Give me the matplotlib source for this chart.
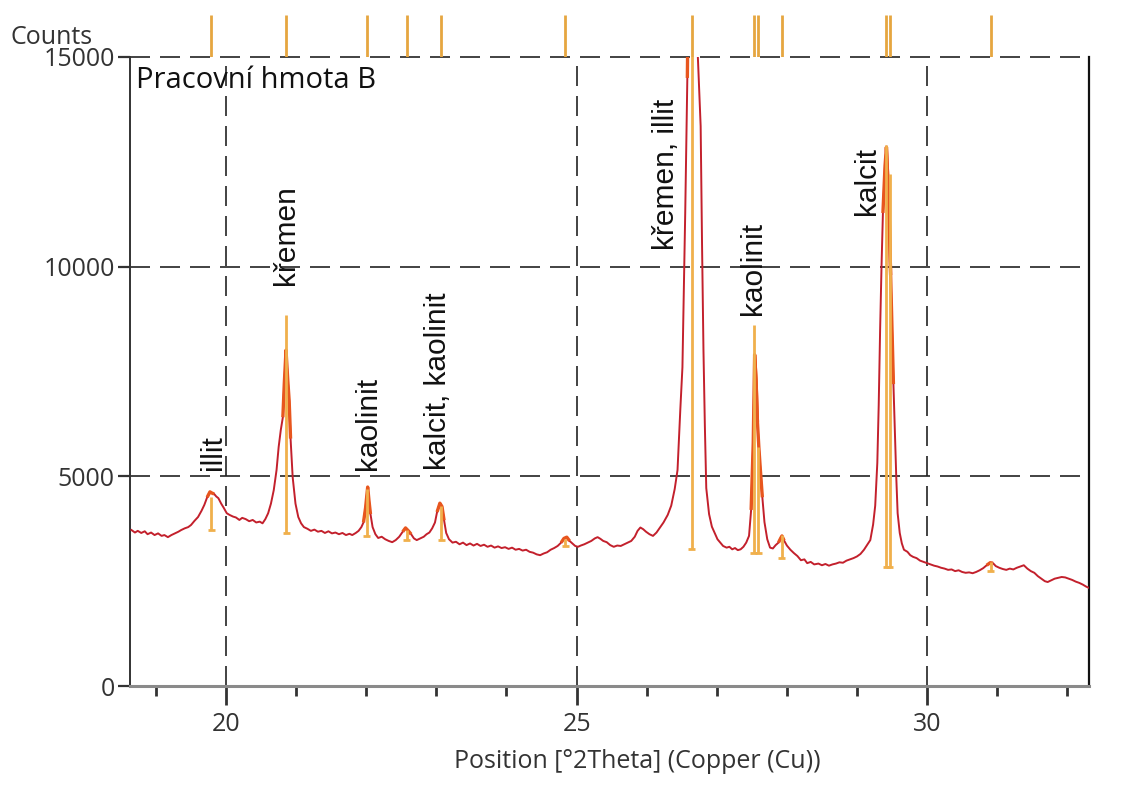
import numpy as np
import matplotlib
matplotlib.use('Agg')
import matplotlib.pyplot as plt

two_theta = [
    18.65, 18.70, 18.74, 18.79, 18.84, 18.88, 18.93, 18.98, 19.03, 19.08,
    19.12, 19.17, 19.22, 19.27, 19.32, 19.36, 19.41, 19.46, 19.50, 19.55,
    19.60, 19.65, 19.69, 19.73, 19.77, 19.80, 19.83, 19.86, 19.89, 19.93,
    19.97, 20.01, 20.05, 20.10, 20.14, 20.19, 20.23, 20.28, 20.33, 20.38,
    20.43, 20.48, 20.52, 20.56, 20.60, 20.64, 20.68, 20.72, 20.75, 20.78,
    20.81, 20.83, 20.855, 20.88, 20.90, 20.92, 20.95, 20.99, 21.03, 21.07,
    21.11, 21.16, 21.21, 21.26, 21.31, 21.36, 21.41, 21.46, 21.51, 21.56,
    21.61, 21.66, 21.71, 21.76, 21.80, 21.85, 21.89, 21.93, 21.96, 21.99,
    22.02, 22.04, 22.06, 22.09, 22.13, 22.17, 22.22, 22.27, 22.32, 22.37,
    22.42, 22.47, 22.52, 22.56, 22.60, 22.64, 22.68, 22.72, 22.77, 22.82,
    22.86, 22.90, 22.94, 22.98, 23.01, 23.05, 23.08, 23.11, 23.14, 23.18,
    23.23, 23.28, 23.33, 23.38, 23.43, 23.48, 23.53, 23.58, 23.63, 23.68,
    23.73, 23.78, 23.83, 23.88, 23.93, 23.98, 24.03, 24.08, 24.13, 24.18,
    24.23, 24.28, 24.33, 24.38, 24.43, 24.48, 24.53, 24.58, 24.63, 24.68,
    24.73, 24.78, 24.82, 24.86, 24.90, 24.94, 24.98, 25.02, 25.06, 25.11,
    25.16, 25.21, 25.26, 25.30, 25.34, 25.38, 25.43, 25.48, 25.53, 25.58,
    25.63, 25.68, 25.73, 25.78, 25.83, 25.87, 25.91, 25.95, 25.99, 26.04,
    26.09, 26.14, 26.19, 26.24, 26.30, 26.35, 26.40, 26.44, 26.48, 26.51,
    26.53, 26.55, 26.58, 26.61, 26.64, 26.67, 26.70, 26.73, 26.77, 26.79,
    26.81, 26.83, 26.85, 26.89, 26.93, 26.97, 27.01, 27.05, 27.09, 27.14,
    27.18, 27.22, 27.26, 27.30, 27.34, 27.38, 27.42, 27.46, 27.49, 27.52,
    27.54, 27.56, 27.58, 27.60, 27.62, 27.65, 27.68, 27.72, 27.76, 27.80,
    27.84, 27.88, 27.91, 27.93, 27.96, 28.00, 28.05, 28.10, 28.15, 28.20,
    28.25, 28.29, 28.34, 28.39, 28.45, 28.50, 28.55, 28.60, 28.65, 28.70,
    28.75, 28.80, 28.85, 28.90, 28.95, 29.00, 29.05, 29.10, 29.15, 29.19,
    29.23, 29.26, 29.29, 29.31, 29.33, 29.35, 29.37, 29.40, 29.42, 29.44,
    29.46, 29.48, 29.50, 29.52, 29.54, 29.56, 29.58, 29.61, 29.64, 29.67,
    29.72, 29.76, 29.80, 29.85, 29.90, 29.95, 30.00, 30.05, 30.10, 30.15,
    30.20, 30.25, 30.30, 30.35, 30.40, 30.45, 30.50, 30.55, 30.60, 30.65,
    30.70, 30.75, 30.80, 30.85, 30.90, 30.94, 30.98, 31.03, 31.08, 31.13,
    31.18, 31.23, 31.28, 31.33, 31.38, 31.43, 31.48, 31.53, 31.58, 31.63,
    31.68, 31.72, 31.77, 31.82, 31.87, 31.92, 31.97, 32.02, 32.07, 32.12,
    32.17, 32.22, 32.27, 32.31,
]
counts = [
    3720, 3660, 3700, 3650, 3690, 3620, 3660, 3600, 3640, 3580,
    3600, 3550, 3600, 3640, 3680, 3720, 3760, 3790, 3840, 3940,
    4030, 4180, 4320, 4500, 4630, 4600, 4580, 4520, 4480, 4350,
    4240, 4120, 4080, 4040, 4020, 3960, 4010, 3980, 3930, 3960,
    3900, 3920, 3880, 3980, 4120, 4350, 4670, 5150, 5700, 6100,
    6410, 7200, 8010, 7300, 6800, 5900, 4980, 4350, 4030, 3880,
    3790, 3750, 3700, 3730, 3680, 3700, 3650, 3690, 3640, 3660,
    3620, 3650, 3600, 3630, 3600, 3650, 3700, 3790, 3900, 4250,
    4745, 4400, 4100, 3790, 3620, 3530, 3560, 3500, 3460, 3430,
    3480, 3560, 3680, 3770, 3700, 3620, 3520, 3480, 3520, 3560,
    3620, 3660, 3760, 3900, 4150, 4360, 4280, 3950, 3650, 3500,
    3420, 3440, 3380, 3420, 3360, 3400, 3350, 3390, 3340, 3370,
    3320, 3350, 3300, 3330, 3290, 3310, 3270, 3300, 3250, 3270,
    3230, 3250, 3200, 3180, 3140, 3120, 3160, 3190, 3250, 3290,
    3340, 3420, 3520, 3550, 3460, 3400, 3340, 3320, 3350, 3380,
    3420, 3460, 3520, 3550, 3510, 3460, 3430, 3360, 3320, 3350,
    3340, 3380, 3420, 3460, 3560, 3700, 3780, 3740, 3680, 3620,
    3580, 3660, 3780, 3900, 4080, 4300, 4700, 5150, 6600, 7600,
    9500, 11300, 14500, 19000, 23000, 20000, 17000, 15000, 13350, 10500,
    8010, 6200, 4720, 4100, 3800, 3650, 3500, 3420, 3340, 3300,
    3320, 3260, 3290, 3240, 3260, 3320, 3420, 3580, 4200, 5800,
    7900, 7300, 6300, 5700, 5200, 4500, 3910, 3500, 3300, 3280,
    3360, 3420, 3520, 3580, 3470, 3350, 3250, 3170, 3100, 3000,
    3020, 2930, 2960, 2900, 2920, 2880, 2910, 2870, 2900, 2920,
    2950, 2940, 2990, 3020, 3050, 3090, 3150, 3250, 3380, 3480,
    3850, 4300, 5320, 6700, 8490, 10000, 11280, 12400, 12850, 12060,
    11200, 9800, 8490, 7200, 6100, 5000, 4120, 3650, 3400, 3250,
    3200, 3120, 3080, 3050, 2990, 2960, 2930, 2900, 2870, 2850,
    2820, 2800, 2770, 2780, 2740, 2760, 2720, 2700, 2710, 2690,
    2720, 2760, 2810, 2880, 2940, 2930, 2860, 2820, 2790, 2770,
    2800, 2780, 2820, 2850, 2880, 2800, 2740, 2700, 2620, 2560,
    2500, 2480, 2520, 2560, 2580, 2600, 2590, 2560, 2530, 2490,
    2460, 2420, 2370, 2340,
]

# ---- reference (phase) sticks ----
ref_pos = [19.79, 20.855, 22.01, 22.58, 23.07, 24.84, 26.64, 27.53, 27.59, 27.93, 29.42, 29.47, 30.91]
ref_top = [4510, 8850, 4700, 3720, 4300, 3500, 30000, 8600, 5700, 3600, 12900, 12200, 2950]
ref_base = [3720, 3650, 3580, 3480, 3480, 3330, 3270, 3170, 3170, 3050, 2840, 2840, 2750]

# ---- peak annotations ----
label_text = ["illit", "křemen", "kaolinit", "kalcit, kaolinit", "křemen, illit", "kaolinit", "kalcit"]
label_x = [19.81, 20.855, 22.02, 23.02, 26.27, 27.51, 29.15]
label_y = [5150, 9560, 5150, 5150, 10390, 8850, 11230]

x_major = [20, 25, 30]
x_minor = [19, 21, 22, 23, 24, 26, 27, 28, 29, 31, 32]
y_ticks = [0, 5000, 10000, 15000]

txt = '#333333'
fig = plt.figure(figsize=(11.22, 7.87), dpi=100)
ax = fig.add_axes([0.1159, 0.1283, 0.8547, 0.7993])
ax.set_xlim(18.63, 32.31)
ax.set_ylim(0, 15000)

for xv in x_major:
    ax.axvline(xv, color='#222222', lw=1.2, dashes=(12, 6), zorder=1)
for yv in y_ticks[1:]:
    ax.axhline(yv, color='#222222', lw=1.2, dashes=(12, 6), zorder=1, clip_on=False)

ax.plot(two_theta, counts, color='#c3202c', lw=1.4, zorder=3)
tt = np.array(two_theta)
cc = np.array(counts)
for p in ref_pos:
    m = np.abs(tt - p) < 0.07
    ax.plot(tt[m], cc[m], color='#e8561e', lw=2.4, zorder=4, solid_capstyle='butt')

rp = np.array(ref_pos)
ax.vlines(rp, ref_base, ref_top, color='#f0b04c', lw=2.0, zorder=5)
ax.hlines(ref_base, rp - 0.05, rp + 0.05, color='#f0b04c', lw=2.0, zorder=5)

for t, x, y in zip(label_text, label_x, label_y):
    ax.text(x, y, t, rotation=90, ha='center', va='bottom', fontsize=21.5,
            family='Liberation Sans', color='#111111', zorder=6)

ax.text(0.006, 0.985, "Pracovní hmota B", transform=ax.transAxes, ha='left', va='top',
        fontsize=21, family='Open Sans', color='#111111', zorder=6)

# spines
ax.spines['top'].set_visible(False)
ax.spines['right'].set_color('#111111')
ax.spines['right'].set_linewidth(1.6)
ax.spines['left'].set_color('#333333')
ax.spines['left'].set_linewidth(1.4)
ax.spines['bottom'].set_color('#8a8a8a')
ax.spines['bottom'].set_linewidth(2.2)

ax.set_xticks(x_major)
ax.set_xticks(x_minor, minor=True)
ax.set_yticks(y_ticks)
ax.tick_params(axis='x', which='major', length=14, width=2, color='#333333', labelsize=18,
               labelcolor=txt, pad=5)
ax.tick_params(axis='x', which='minor', length=7, width=2, color='#333333')
ax.tick_params(axis='y', length=9, width=1.6, color='#333333', labelsize=18, labelcolor=txt, pad=2)
for lab in ax.get_xticklabels() + ax.get_yticklabels():
    lab.set_family('Open Sans')
ax.set_xlabel("Position [°2Theta] (Copper (Cu))", fontsize=18, family='Open Sans', color=txt)
ax.xaxis.set_label_coords(0.529, -0.10)

fig.text(10 / 1122, 1 - 38 / 787, "Counts", fontsize=18, family='Open Sans', color=txt,
         ha='left', va='center')

# top reference-pattern strip
ax2 = fig.add_axes([0.1159, 0.9276, 0.8547, 0.053])
ax2.set_xlim(18.63, 32.31)
ax2.set_ylim(0, 1)
ax2.axis('off')
ax2.vlines(rp, 0, 1, color='#e6a640', lw=2.0)

fig.savefig('out.png', dpi=100)
